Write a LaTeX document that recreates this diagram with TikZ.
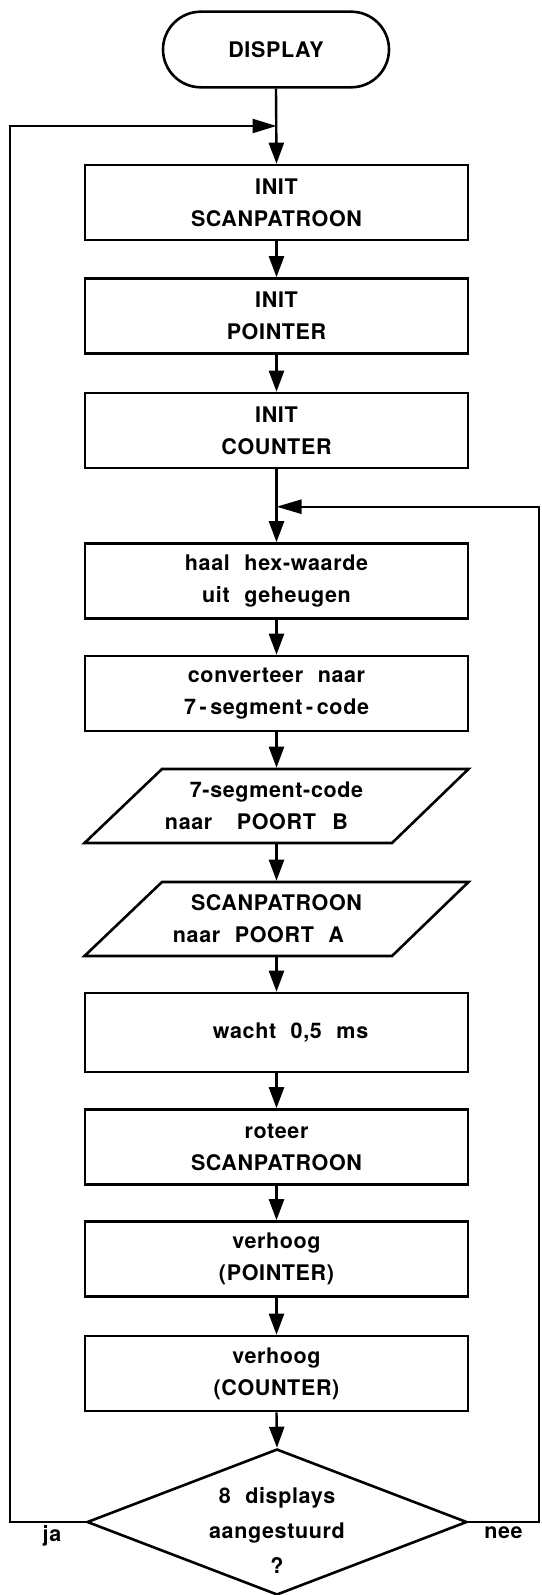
\documentclass[tikz,border=0pt]{standalone}
\usepackage{fontspec}
\setmainfont{TeX Gyre Heros}[LetterSpace=3,WordSpace=2.2]
\usetikzlibrary{arrows.meta,shapes.geometric}
% a line of text centred on a point that lies #1 to the right of its middle
\newcommand\offsetline[2]{\hbox to 0pt{\hss#2\hspace*{#1}\hss}}
\begin{document}
\begin{tikzpicture}[x=1pt,y=-1pt,line width=2.6pt,line join=miter,
  txt/.style={font=\fontsize{21.5}{32}\selectfont\bfseries,align=center,inner sep=0pt},
  proc/.style={txt,draw,rectangle,minimum width=383pt,minimum height=75pt},
  io/.style={txt,rectangle,minimum width=384pt,minimum height=74pt},
  term/.style={txt,draw,rectangle,rounded corners=37.8pt,minimum width=226pt,minimum height=75.6pt},
  flow/.style={-{Triangle[length=21pt,width=15pt]},line width=2.4pt},
  lbl/.style={font=\fontsize{21.5}{32}\selectfont\bfseries,inner sep=0pt,anchor=base}]
\clip (0,0) rectangle (541,1595);

% start terminal and process steps
\node[term] (start) at (276,49.5) {DISPLAY};
\node[proc] (b1) at (276.5,202.5) {INIT\\SCANPATROON};
\node[proc] (b2) at (276.5,316) {INIT\\POINTER};
\node[proc] (b3) at (276.5,430.5) {INIT\\COUNTER};
\node[proc] (b4) at (276.5,581) {haal hex-waarde\\uit geheugen};
\node[proc] (b5) at (276.5,693.5) {converteer naar\\7\,-\,segment\,-\,code};

% output steps (parallelograms)
\node[io] (p1) at (276.5,806) {7-segment-code\\\offsetline{40pt}{naar\hspace{10pt} POORT\hspace{2pt} B}};
\node[io] (p2) at (276.5,919) {SCANPATROON\\\offsetline{36pt}{naar POORT A}};
\foreach \p in {p1,p2}
  \draw ([shift={(-192,37)}]\p.center) -- ([shift={(-114.5,-37)}]\p.center)
     -- ([shift={(192,-37)}]\p.center) -- ([shift={(115.5,37)}]\p.center) -- cycle;

\node[proc,minimum height=79pt] (b7) at (276.5,1032.5) {\hspace*{28pt}wacht 0,5 ms};
\node[proc] (b8) at (276.5,1147) {roteer\\SCANPATROON};
\node[proc] (b9) at (276.5,1259) {verhoog\\(POINTER)};
\node[proc] (b10) at (276.5,1373.5) {verhoog\\(COUNTER)};

% decision
\node[diamond,draw,minimum width=380pt,minimum height=146pt,inner sep=0pt] (dec) at (277,1522) {};
\node[txt,font=\fontsize{21.5}{35}\selectfont\bfseries] (dect) at (277,1530) {8 displays\\aangestuurd\\?};
\node[lbl] (ja) at (52,1541) {ja};
\node[lbl] (nee) at (503.5,1538) {nee};

% junction points of the two loops
\coordinate (j1) at (276.5,126);
\coordinate (j2) at (276.5,506.7);
\coordinate (lx) at (10,0);
\coordinate (rx) at (539,0);

% main flow
\draw[flow] (start.south) -- (b1.north);
\draw[flow] (b1.south) -- (b2.north);
\draw[flow] (b2.south) -- (b3.north);
\draw[flow] (b3.south) -- (b4.north);
\draw[flow] (b4.south) -- (b5.north);
\draw[flow] (b5.south) -- (p1.north);
\draw[flow] (p1.south) -- (p2.north);
\draw[flow] (p2.south) -- (b7.north);
\draw[flow] (b7.south) -- (b8.north);
\draw[flow] (b8.south) -- (b9.north);
\draw[flow] (b9.south) -- (b10.north);
\draw[flow] (b10.south) -- (dec.north);

% loops back
\draw[-{Triangle[length=24pt,width=14pt]},line width=2.4pt] (dec.west) -- (dec.west -| lx) |- (j1);
\draw[-{Triangle[length=25pt,width=14pt]},line width=2.4pt] (dec.east) -- (dec.east -| rx) |- (j2);
\end{tikzpicture}
\end{document}
